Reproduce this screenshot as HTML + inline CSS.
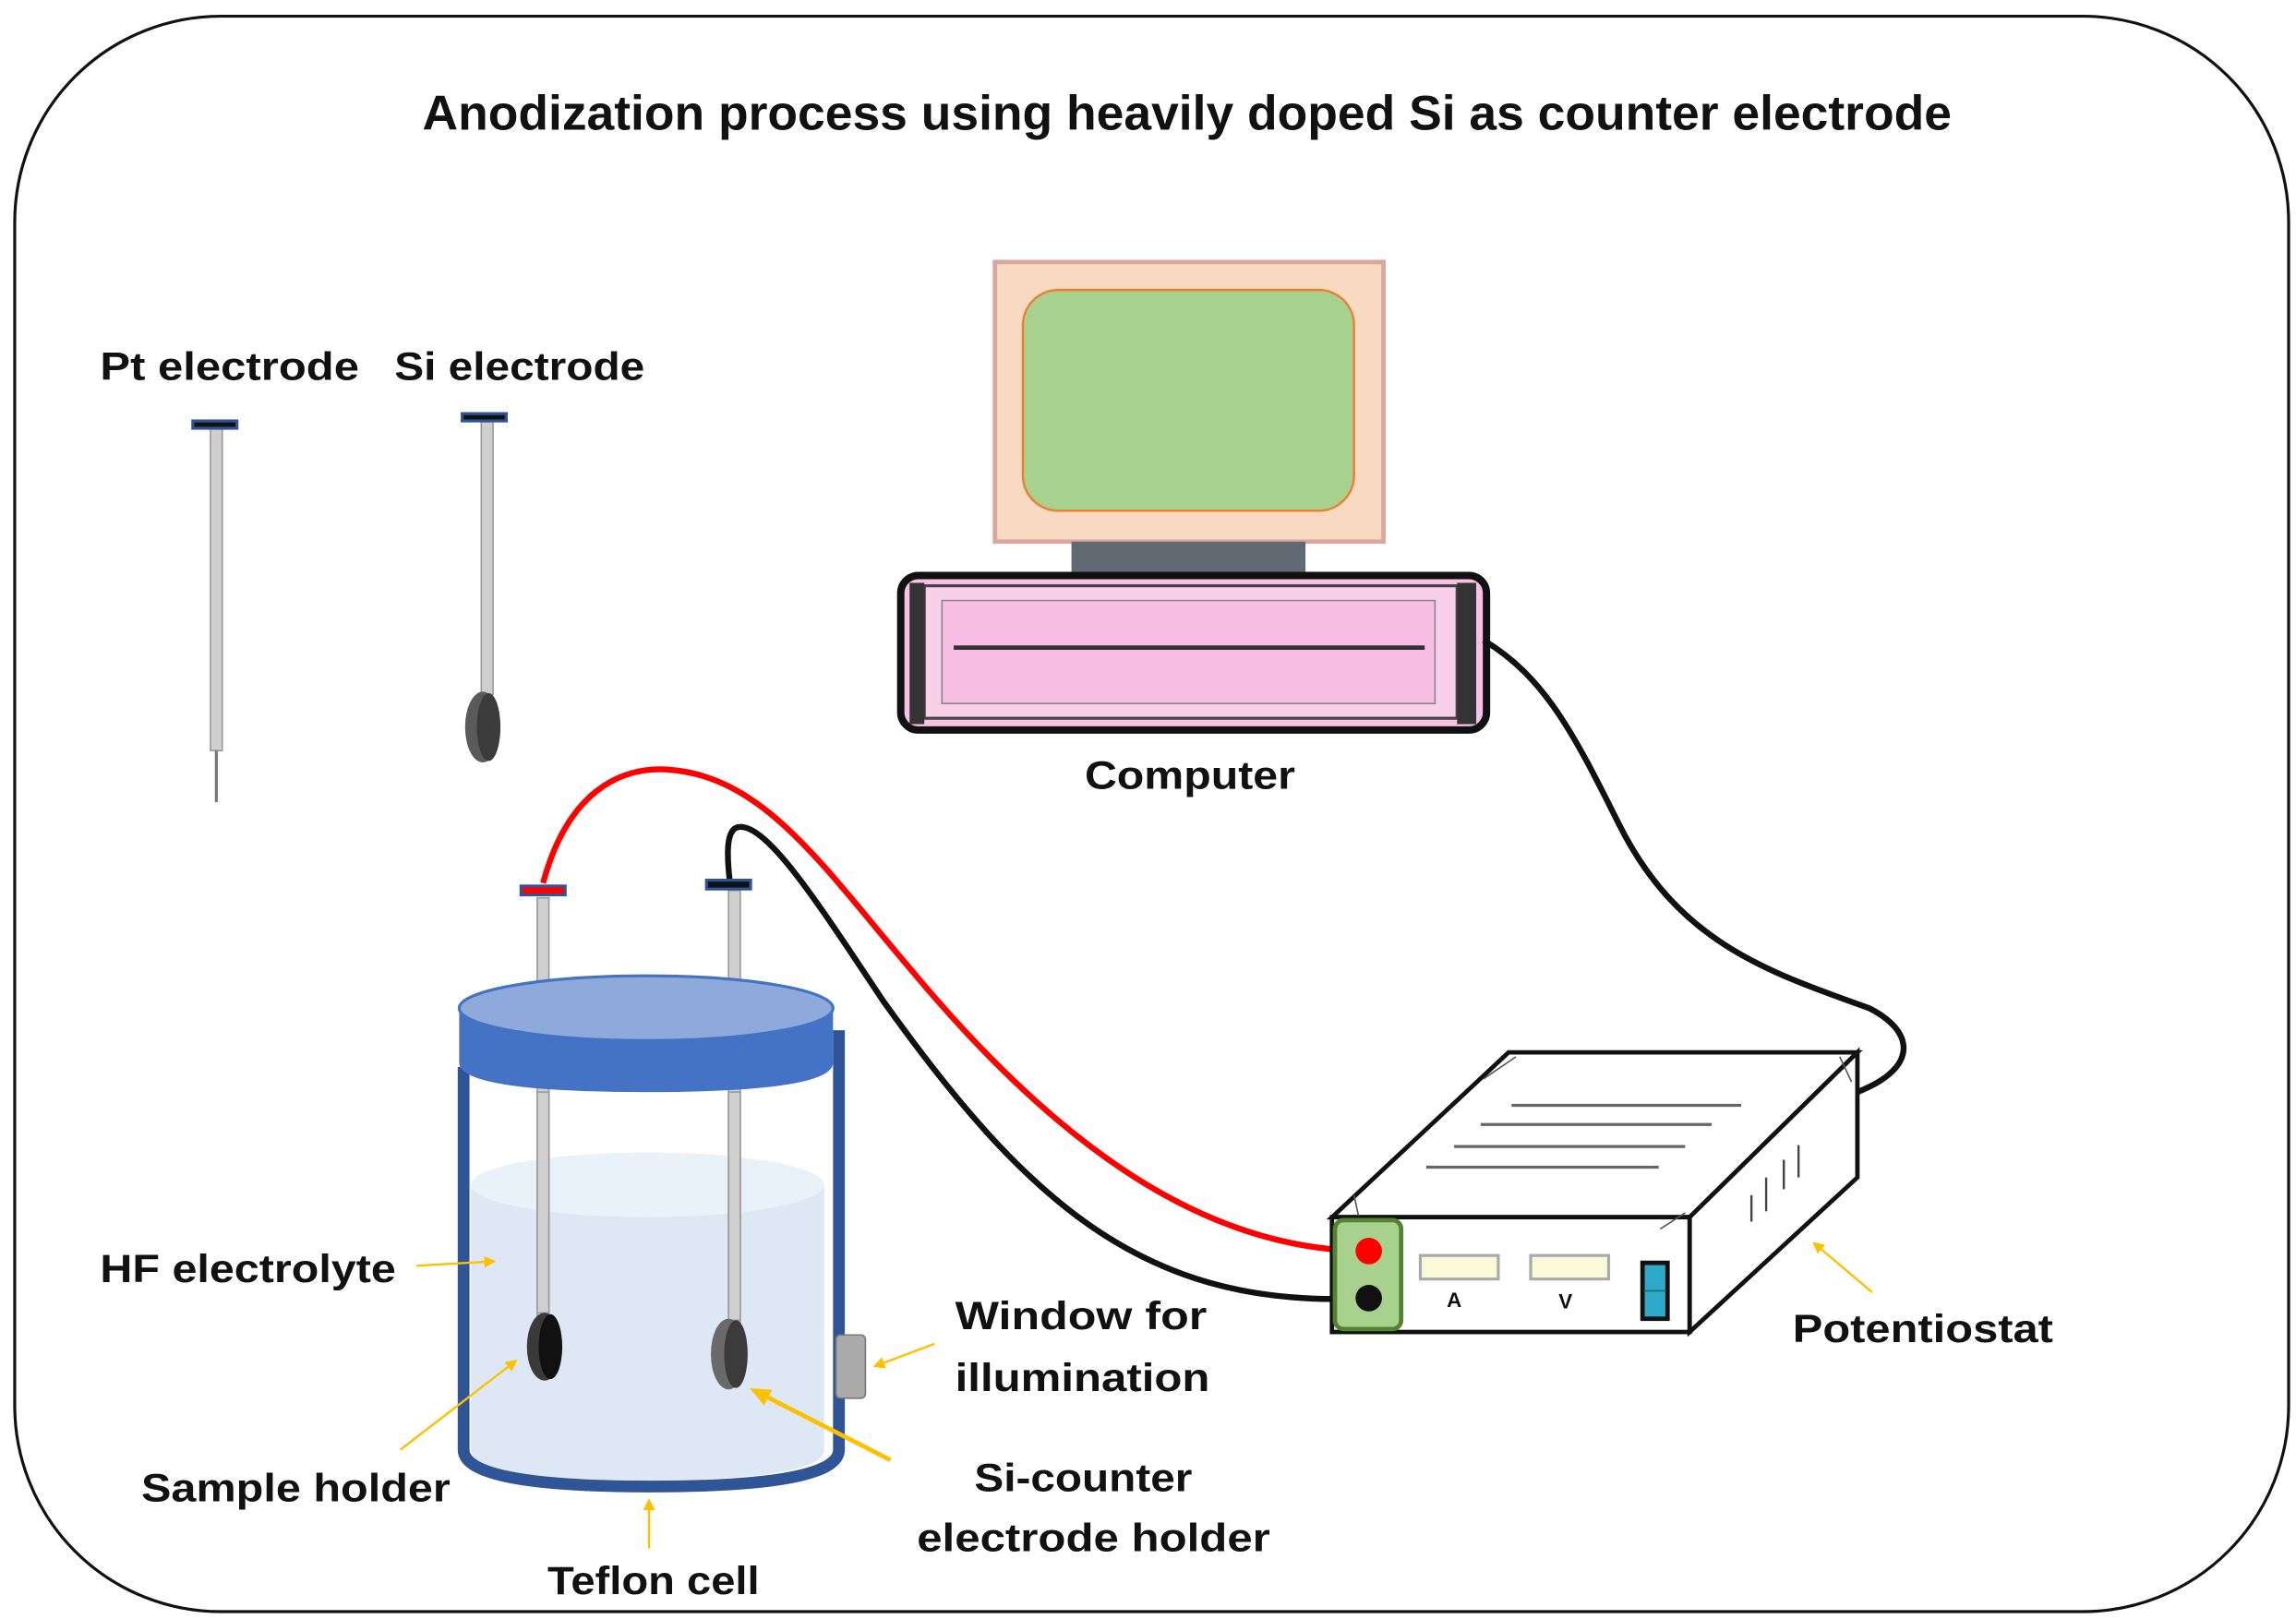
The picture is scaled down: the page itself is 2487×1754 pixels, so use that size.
<!DOCTYPE html>
<html><head><meta charset="utf-8"><style>
html,body{margin:0;padding:0;background:#fff;}
svg{display:block;}
text{font-family:"Liberation Sans",sans-serif;font-weight:bold;fill:#111;}
</style></head><body>
<svg width="2487" height="1754" viewBox="0 0 1560 1100" preserveAspectRatio="none" xmlns="http://www.w3.org/2000/svg">
<defs>
<marker id="ar" markerWidth="8" markerHeight="8" refX="6" refY="4" orient="auto" markerUnits="userSpaceOnUse"><path d="M0,0 L8,4 L0,8 z" fill="#ffc000"/></marker>
<marker id="ar2" markerWidth="14" markerHeight="12" refX="10" refY="6" orient="auto" markerUnits="userSpaceOnUse"><path d="M0,0 L14,6 L0,12 z" fill="#ffc000"/></marker>
</defs>
<rect x="10" y="11" width="1545" height="1084" rx="140" ry="140" fill="#fff" stroke="#111" stroke-width="2"/>
<text x="287" y="88" font-size="33" textLength="1039" lengthAdjust="spacingAndGlyphs">Anodization process using heavily doped Si as counter electrode</text>

<!-- electrodes -->
<text x="68" y="258" font-size="27" textLength="176" lengthAdjust="spacingAndGlyphs">Pt electrode</text>
<text x="268" y="258" font-size="27" textLength="170" lengthAdjust="spacingAndGlyphs">Si electrode</text>
<rect x="143" y="291" width="8" height="219" fill="#cfcfcf" stroke="#999" stroke-width="1"/>
<line x1="147" y1="510" x2="147" y2="545" stroke="#777" stroke-width="2"/>
<rect x="130" y="285" width="32" height="7" fill="#2f5597"/><rect x="132" y="287" width="28" height="3" fill="#111"/>
<rect x="327" y="286" width="8" height="186" fill="#cfcfcf" stroke="#999" stroke-width="1"/>
<rect x="313" y="280" width="32" height="7" fill="#2f5597"/><rect x="315" y="282" width="28" height="3" fill="#111"/>
<ellipse cx="328" cy="494" rx="12" ry="24" fill="#5a5a5a"/><ellipse cx="332" cy="494" rx="8" ry="23" fill="#3b3b3b"/>

<!-- computer -->
<rect x="676" y="178" width="264" height="190" fill="#f8d9c2" stroke="#d8a8a0" stroke-width="3"/>
<rect x="695" y="197" width="225" height="150" rx="24" fill="#a9d18e" stroke="#ed7d31" stroke-width="1.5"/>
<rect x="728" y="368" width="159" height="22" fill="#5f6a72"/>
<rect x="612" y="391" width="398" height="105" rx="12" fill="#f7c0e4" stroke="#111" stroke-width="5"/>
<rect x="628" y="398" width="362" height="90" fill="#f9d0ea" stroke="#444" stroke-width="2"/>
<rect x="640" y="408" width="335" height="70" fill="#f7bde2" stroke="#888" stroke-width="1"/>
<rect x="618" y="396" width="10" height="96" fill="#333"/>
<rect x="990" y="396" width="13" height="96" fill="#333"/>
<line x1="648" y1="440" x2="968" y2="440" stroke="#333" stroke-width="3"/>
<text x="737" y="536" font-size="27" textLength="143" lengthAdjust="spacingAndGlyphs">Computer</text>

<!-- cables -->
<path d="M1008,435 C1050,460 1070,500 1100,560 C1140,640 1200,660 1270,685 C1300,700 1305,725 1262,742" fill="none" stroke="#111" stroke-width="4"/>
<path d="M369,600 C385,540 420,520 455,523 C520,528 560,590 620,660 C720,780 820,850 930,850" fill="none" stroke="#ff0000" stroke-width="4"/>
<path d="M496,600 C493,575 494,560 505,562 C525,565 560,620 600,680 C700,820 780,890 930,882" fill="none" stroke="#111" stroke-width="4"/>

<!-- cell -->
<path d="M320,805 L320,985 Q320,1005 440,1006 Q560,1005 560,985 L560,805 z" fill="#dde8f4"/>
<ellipse cx="440" cy="805" rx="120" ry="22" fill="#e9f1f9"/>
<path d="M315,725 L315,985 Q315,1010 442,1010 Q570,1010 570,985 L570,700" fill="none" stroke="#2f5597" stroke-width="8"/>
<rect x="365" y="610" width="8" height="290" fill="#cfcfcf" stroke="#999" stroke-width="1"/>
<rect x="495" y="605" width="8" height="295" fill="#cfcfcf" stroke="#999" stroke-width="1"/>
<path d="M312,685 L312,722 Q312,742 439,742 Q566,742 566,722 L566,685 z" fill="#4472c4"/>
<ellipse cx="439" cy="685" rx="127" ry="22" fill="#8eaadb" stroke="#4472c4" stroke-width="2"/>
<rect x="353" y="601" width="32" height="8" fill="#2f5597"/><rect x="355" y="603" width="28" height="4" fill="#ff0000"/>
<rect x="479" y="597" width="32" height="8" fill="#2f5597"/><rect x="481" y="599" width="28" height="4" fill="#111"/>
<rect x="365" y="742" width="8" height="150" fill="#cfcfcf" stroke="#999" stroke-width="1"/>
<rect x="495" y="742" width="8" height="155" fill="#cfcfcf" stroke="#999" stroke-width="1"/>
<ellipse cx="370" cy="915" rx="12" ry="23" fill="#3a3a3a"/><ellipse cx="374" cy="915" rx="8" ry="22" fill="#111"/>
<ellipse cx="495" cy="920" rx="12" ry="24" fill="#6a6a6a"/><ellipse cx="500" cy="920" rx="8" ry="23" fill="#3b3b3b"/>
<rect x="568" y="907" width="20" height="43" rx="3" fill="#aaa" stroke="#777" stroke-width="1"/>

<!-- potentiostat -->
<path d="M905,827 L1025,715 L1262,715 L1148,827 z" fill="#fff" stroke="#111" stroke-width="3"/>
<path d="M1148,827 L1262,715 L1262,800 L1148,905 z" fill="#fff" stroke="#111" stroke-width="3"/>
<rect x="905" y="827" width="243" height="78" fill="#fff" stroke="#111" stroke-width="3"/>
<g stroke="#666" stroke-width="2"><line x1="1027" y1="751" x2="1183" y2="751"/><line x1="1006" y1="764" x2="1163" y2="764"/><line x1="988" y1="779" x2="1145" y2="779"/><line x1="969" y1="793" x2="1127" y2="793"/></g>
<g stroke="#555" stroke-width="1"><line x1="1030" y1="718" x2="1008" y2="733"/><line x1="1250" y1="718" x2="1258" y2="735"/><line x1="1145" y1="824" x2="1128" y2="835"/><line x1="920" y1="812" x2="923" y2="826"/></g>
<g stroke="#444" stroke-width="1.5"><line x1="1190" y1="830" x2="1190" y2="812"/><line x1="1200" y1="823" x2="1200" y2="800"/><line x1="1212" y1="808" x2="1212" y2="788"/><line x1="1222" y1="800" x2="1222" y2="778"/></g>
<rect x="907" y="829" width="45" height="74" rx="6" fill="#a9d18e" stroke="#548235" stroke-width="3"/>
<circle cx="930" cy="850" r="9" fill="#ff0000"/>
<circle cx="930" cy="882" r="9" fill="#111"/>
<rect x="965" y="853" width="53" height="16" fill="#fafad8" stroke="#aaa" stroke-width="2"/>
<rect x="1040" y="853" width="53" height="16" fill="#fafad8" stroke="#aaa" stroke-width="2"/>
<text x="983" y="888" font-size="14" font-weight="normal">A</text>
<text x="1059" y="889" font-size="14" font-weight="normal">V</text>
<rect x="1116" y="858" width="17" height="38" fill="#2eaac8" stroke="#111" stroke-width="3"/>
<line x1="1117" y1="877" x2="1132" y2="877" stroke="#1a6a80" stroke-width="1"/>

<!-- labels & arrows -->
<text x="68" y="871" font-size="27" textLength="201" lengthAdjust="spacingAndGlyphs">HF electrolyte</text>
<line x1="283" y1="860" x2="335" y2="857" stroke="#ffc000" stroke-width="1.5" marker-end="url(#ar)"/>
<text x="96" y="1020" font-size="27" textLength="210" lengthAdjust="spacingAndGlyphs">Sample holder</text>
<line x1="272" y1="985" x2="350" y2="925" stroke="#ffc000" stroke-width="1.5" marker-end="url(#ar)"/>
<text x="372" y="1083" font-size="27" textLength="144" lengthAdjust="spacingAndGlyphs">Teflon cell</text>
<line x1="441" y1="1052" x2="441" y2="1020" stroke="#ffc000" stroke-width="1.5" marker-end="url(#ar)"/>
<text x="662" y="1013" font-size="27" textLength="148" lengthAdjust="spacingAndGlyphs">Si-counter</text>
<text x="623" y="1054" font-size="27" textLength="240" lengthAdjust="spacingAndGlyphs">electrode holder</text>
<line x1="605" y1="992" x2="513" y2="945" stroke="#ffc000" stroke-width="3" marker-end="url(#ar2)"/>
<text x="649" y="903" font-size="27" textLength="171" lengthAdjust="spacingAndGlyphs">Window for</text>
<text x="649" y="945" font-size="27" textLength="173" lengthAdjust="spacingAndGlyphs">illumination</text>
<line x1="635" y1="913" x2="595" y2="928" stroke="#ffc000" stroke-width="1.5" marker-end="url(#ar)"/>
<text x="1218" y="912" font-size="27" textLength="177" lengthAdjust="spacingAndGlyphs">Potentiostat</text>
<line x1="1272" y1="878" x2="1233" y2="845" stroke="#ffc000" stroke-width="1.5" marker-end="url(#ar)"/>
</svg>
</body></html>
